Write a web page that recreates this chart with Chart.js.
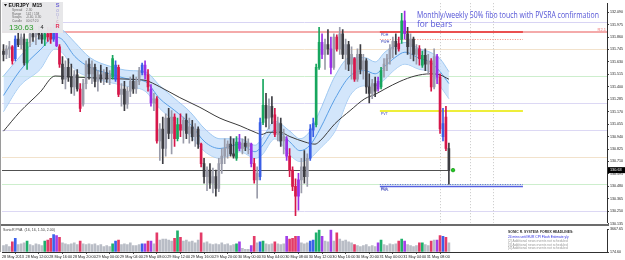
<!DOCTYPE html>
<html><head><meta charset="utf-8">
<script src="https://cdn.jsdelivr.net/npm/chart.js@4.4.0/dist/chart.umd.min.js"></script>
<style>
html,body{margin:0;padding:0;background:#fff;width:625px;height:260px;overflow:hidden}
canvas{position:absolute;left:0}
#c1{top:0;width:625px;height:226px}
#c2{top:226px;width:625px;height:34px}
</style></head><body>
<canvas id="c1" width="625" height="226"></canvas>
<canvas id="c2" width="625" height="34"></canvas>
<script>
// ---------- DATA ----------
const symbolTitle = "EURJPY  M15";
const opens = [131.73,131.70,131.75,131.77,131.66,131.84,131.79,131.84,131.62,131.81,
131.89,131.86,131.90,131.88,131.84,131.89,131.93,131.84,131.91,131.77,
131.61,131.47,131.58,131.49,131.40,131.51,131.38,131.24,131.43,131.61,
131.52,131.58,131.45,131.51,131.47,131.53,131.47,131.49,131.47,131.58,
131.33,131.38,131.24,131.36,131.45,131.38,131.45,131.53,131.60,131.51,
131.38,131.25,131.29,130.90,131.01,130.83,131.11,130.97,131.12,130.92,
131.05,131.00,131.09,130.97,131.03,130.94,131.01,130.87,130.69,130.57,
130.63,130.51,130.57,130.46,130.69,130.76,130.83,130.87,130.78,130.74,
130.89,130.83,130.88,130.85,130.87,130.69,130.54,130.57,131.07,131.23,
131.11,131.22,131.14,130.96,131.06,130.90,130.92,130.76,130.63,130.48,
130.39,130.54,130.66,130.57,130.74,131.00,131.05,131.58,131.81,131.70,
131.79,131.75,131.58,131.86,131.75,131.89,131.70,131.79,131.61,131.66,
131.47,131.70,131.56,131.64,131.40,131.34,131.43,131.45,131.40,131.55,
131.61,131.66,131.75,131.82,131.80,131.84,132.01,131.89,131.77,131.84,
131.70,131.75,131.60,131.69,131.61,131.64,131.40,131.68,131.49,130.94,
131.12,130.83];
const highs = [131.79,131.78,131.82,131.78,131.87,131.90,131.89,131.89,131.84,131.93,
131.95,131.93,131.96,131.93,131.91,131.95,131.95,131.98,131.95,131.79,
131.68,131.64,131.66,131.61,131.55,131.56,131.43,131.47,131.64,131.66,
131.64,131.61,131.55,131.60,131.56,131.58,131.55,131.69,131.64,131.60,
131.43,131.45,131.40,131.49,131.51,131.49,131.58,131.62,131.64,131.56,
131.42,131.34,131.31,131.06,131.12,131.15,131.20,131.18,131.15,131.11,
131.15,131.12,131.15,131.11,131.09,131.06,131.03,130.88,130.74,130.66,
130.69,130.65,130.63,130.74,130.83,130.92,130.90,130.94,130.92,130.94,
130.96,130.92,130.94,130.92,130.88,130.74,130.66,131.11,131.47,131.34,
131.29,131.31,131.20,131.12,131.11,131.01,130.94,130.83,130.66,130.55,
130.60,130.74,130.81,130.78,131.05,131.11,131.61,131.95,131.89,131.84,
131.93,131.86,131.89,131.88,131.95,131.93,131.84,131.82,131.77,131.67,
131.75,131.79,131.70,131.66,131.52,131.47,131.49,131.49,131.58,131.66,
131.70,131.79,131.86,131.89,131.86,132.08,132.10,131.95,131.89,131.86,
131.79,131.78,131.73,131.75,131.70,131.66,131.75,131.70,131.52,131.20,
131.22,130.88];
const lows = [131.64,131.66,131.67,131.61,131.64,131.77,131.75,131.60,131.56,131.77,
131.82,131.79,131.84,131.80,131.78,131.82,131.80,131.82,131.77,131.58,
131.43,131.38,131.45,131.34,131.32,131.36,131.17,131.22,131.38,131.47,
131.43,131.40,131.36,131.44,131.42,131.44,131.42,131.47,131.45,131.31,
131.22,131.18,131.20,131.31,131.34,131.34,131.42,131.51,131.47,131.36,
131.22,131.18,130.88,130.72,130.69,130.76,130.92,130.78,130.85,130.90,
130.94,130.88,130.92,130.88,130.90,130.85,130.83,130.66,130.51,130.44,
130.46,130.42,130.39,130.43,130.60,130.69,130.74,130.76,130.74,130.72,
130.81,130.78,130.81,130.78,130.66,130.51,130.37,130.54,131.05,131.03,
131.01,131.06,130.94,130.90,130.85,130.78,130.72,130.57,130.44,130.21,
130.26,130.42,130.51,130.48,130.72,130.94,131.03,131.56,131.66,131.56,
131.70,131.52,131.56,131.73,131.70,131.66,131.56,131.55,131.47,131.45,
131.45,131.52,131.47,131.34,131.25,131.29,131.31,131.36,131.38,131.49,
131.55,131.61,131.67,131.70,131.73,131.80,131.84,131.70,131.66,131.64,
131.61,131.60,131.58,131.55,131.52,131.36,131.38,131.43,130.97,130.90,
130.81,130.50];
const closes = [131.70,131.75,131.77,131.64,131.84,131.79,131.86,131.62,131.81,131.89,
131.86,131.90,131.88,131.84,131.89,131.86,131.84,131.93,131.78,131.61,
131.47,131.58,131.49,131.40,131.51,131.38,131.20,131.43,131.61,131.52,
131.58,131.45,131.51,131.47,131.53,131.47,131.51,131.66,131.60,131.33,
131.38,131.24,131.36,131.45,131.38,131.45,131.55,131.60,131.51,131.40,
131.25,131.29,130.90,131.01,130.83,131.11,130.97,131.12,130.92,131.05,
131.00,131.09,130.97,131.03,130.94,131.01,130.87,130.69,130.57,130.63,
130.51,130.57,130.46,130.69,130.76,130.83,130.87,130.78,130.76,130.89,
130.83,130.88,130.85,130.88,130.69,130.54,130.60,131.07,131.23,131.11,
131.22,131.12,130.96,131.06,130.90,130.94,130.76,130.63,130.48,130.39,
130.54,130.66,130.57,130.74,131.01,131.06,131.58,131.81,131.70,131.79,
131.75,131.58,131.86,131.75,131.89,131.70,131.79,131.61,131.70,131.47,
131.70,131.56,131.64,131.40,131.34,131.43,131.36,131.38,131.55,131.61,
131.66,131.75,131.82,131.77,131.75,132.01,131.89,131.77,131.84,131.70,
131.75,131.66,131.69,131.61,131.64,131.40,131.68,131.49,131.01,131.06,
130.83,130.63];
// PVSRA class per candle: n normal, R climax bear, G climax bull, B rising bull, P rising bear
const pvsra = ['n','n','n','R','B','n','n','n','G','n',
'n','n','n','n','G','R','R','B','P','R',
'n','n','n','n','n','n','R','n','n','n',
'n','n','n','n','n','n','n','G','B','R',
'n','n','n','n','n','n','n','B','P','R',
'P','n','R','n','n','n','n','n','R','G',
'R','n','n','n','n','n','n','R','n','n',
'n','n','n','n','n','n','n','n','n','G',
'P','n','n','n','P','R','n','B','G','n',
'n','n','R','n','n','n','P','R','R','R',
'P','n','n','n','B','B','G','G','P','n',
'n','P','n','R','n','n','n','n','n','R',
'n','n','n','n','n','n','n','P','G','n',
'n','n','n','n','R','G','P','n','n','n',
'n','R','G','n','n','R','n','P','R','B',
'R','n'];
const volumes = [1155,1295,1015,1715,2275,1295,1435,1575,1855,1295,
1155,1435,1295,1155,1855,1995,2275,2835,2695,2415,
1575,1435,1295,1435,1575,1295,1855,1435,1295,1435,
1295,1435,1155,1295,1015,1155,1015,1435,1855,1995,
1295,1435,1295,1575,1155,1155,1295,1435,1435,1855,
1855,1435,3115,1995,2135,2135,1995,1855,2275,3395,
2415,1855,1995,1715,1855,1575,1995,3115,1575,1715,
1435,1295,1435,1295,1575,1295,1435,1155,1295,1435,
1715,735,595,595,1155,2555,1575,1715,1855,1435,
1295,1435,1715,1435,1295,1435,2555,2135,2275,2555,
2555,1575,1435,1575,1855,1995,3115,3535,2555,1855,
1715,3535,1855,3115,2135,1855,1995,1715,1575,1295,
1155,1015,1155,1295,1015,1155,1015,1575,1995,1295,
1155,1435,1295,1435,1855,2135,1855,1295,1155,1015,
1155,1575,1575,1295,1155,1855,1995,1995,2695,2555,
2415,1575];
// Sonic R dragon band (EMA34 of highs / lows / close)
const bandSlots = [0,5.6,12.4,17.5,19.8,24.2,29.3,36.1,42.9,48,53,58.1,63.2,68.3,73.4,80.2,85.3,87.6,92,97.1,100.5,103.9,107.3,112.4,117.5,122.5,126,129.3,132.7,136.1,141.2,144.6,148,151];
const bandUpper = [131.50,131.68,131.87,131.95,131.93,131.81,131.67,131.59,131.55,131.54,131.41,131.29,131.17,131.01,130.92,130.92,130.86,130.92,131.08,130.99,130.92,130.99,131.18,131.50,131.67,131.67,131.63,131.72,131.78,131.81,131.75,131.72,131.66,131.54];
const bandLower = [131.17,131.41,131.56,131.75,131.72,131.56,131.49,131.44,131.40,131.36,131.20,131.08,130.95,130.80,130.74,130.80,130.74,130.77,130.92,130.77,130.71,130.74,130.83,130.99,131.32,131.41,131.41,131.47,131.56,131.61,131.56,131.54,131.41,131.29];
const bandMid = [131.32,131.55,131.74,131.86,131.84,131.68,131.58,131.52,131.47,131.45,131.29,131.18,131.06,130.89,130.83,130.87,130.80,130.85,131.00,130.89,130.81,130.86,131.01,131.29,131.50,131.55,131.52,131.59,131.67,131.72,131.66,131.63,131.54,131.43];
const emaSlots = [0,5.6,12.4,17.5,24.2,32.7,42.9,48,53,59.8,66.6,73.4,80.2,85.3,87.6,89.7,93.7,97.1,102.2,105.6,107.3,112.4,117.5,122.5,126,129.3,134.4,139.5,144.6,148,151];
const emaSlow = [130.99,131.17,131.35,131.50,131.49,131.48,131.47,131.46,131.40,131.30,131.21,131.11,131.04,130.98,130.96,130.98,130.98,130.94,130.89,130.87,130.90,131.06,131.18,131.29,131.33,131.38,131.45,131.50,131.52,131.51,131.47];
// horizontal levels
const roundLevels = [132.00,131.75,131.50,131.25,131.00,130.75,130.50,130.25];
const resistanceLevel = 131.904;
const keyLevelNames = ['PDH','PWH','PVT','PDL','PWL'];
const keyLevelValues = [131.904,131.845,131.174,130.485,130.503];
const keyLevelSpan = [127.6,176.1];
const eventSlots = [148,158.1,166];
const lastPrice = 130.63;
const lastPriceText = "130.63";
const lastSlot = 151;
// axis tick labels
const yTickLabels = ["132.090","131.975","131.860","131.745","131.630","131.515","131.400","131.285","131.170","131.055","130.940","130.825","130.710","130.595","130.480","130.365","130.250","130.135"];
const xTickSlots = [0,8,16,24,32,40,48,56,64,72,80,88,96,104,112,120,128,136,144];
const xTickLabels = ["28 May 2013","28 May 12:00","28 May 16:00","28 May 20:00","29 May 00:00","29 May 04:00","29 May 08:00","29 May 12:00","29 May 16:00","29 May 20:00","30 May 00:00","30 May 04:00","30 May 08:00","30 May 12:00","30 May 16:00","30 May 20:00","31 May 00:00","31 May 04:00","31 May 08:00"];
const volTickLabels = ["174.60","3667.65"];
const infoRows = [["Spread","2.30"],["Range","142 / 158"],["Swaps","-0.40, 0.30"],["Candle","00:07:20"]];
const infoPrice = "130.63";
const infoCount = "4";
const sonicLetters = ["S","o","n","i","c","R"];
const annotationLines = ["Monthly/weekly 50% fibo touch with PVSRA confirmation","for bears"];
const volumeTitle = "SonicR PVA  (16, 16, 1.50, 2.00)";
const newsLines = ["SONIC R. SYSTEM: FOREX HEADLINES:","24 mins until EUR CPI Flash Estimate y/y","[2] Additional news events not scheduled","[3] Additional news events not scheduled","[4] Additional news events not scheduled"];
const resistanceTag = "R2.1";

// ---------- STYLE ----------
const PV_COL = {R:'#d6174a', G:'#17a65e', B:'#3a5fe6', P:'#9a2ee6'};
const VOL_COL = {R:'#e33b68', G:'#1fb06c', B:'#3b62ea', P:'#a23ee8', n:'#b9bdc6'};
const UP_COL = '#9a9caa', DN_COL = '#3c3c42';
const roundLevelColors = ['#d8d4f4','#f2e2cc','#cdeecd','#dcd8f4','#dcd8f4','#f2e2cc','#cdeecd','#dcd8f4'];
const keyLevelStyles = [
  {color:'#ea5050', w:2, dash:[]},
  {color:'#f09080', w:1, dash:[1,1.5]},
  {color:'#eeee3a', w:2, dash:[]},
  {color:'#5562e0', w:1.5, dash:[]},
  {color:'#5562e0', w:1, dash:[1,1.5]}
];
const FONT = '"Liberation Sans", Arial, sans-serif';
const X_MIN = -0.5, X_MAX = 204.6;

const idx = opens.map((_, i) => i);
const candleColor = i => pvsra[i] !== 'n' ? PV_COL[pvsra[i]] : (closes[i] >= opens[i] ? UP_COL : DN_COL);
const candleColors = idx.map(candleColor);

function hline(ctx, x0, x1, y){ ctx.beginPath(); ctx.moveTo(x0, y); ctx.lineTo(x1, y); ctx.stroke(); }
function vline(ctx, x, y0, y1){ ctx.beginPath(); ctx.moveTo(x, y0); ctx.lineTo(x, y1); ctx.stroke(); }

const pricePlugin = {
  id: 'priceOverlay',
  beforeDatasetsDraw(chart) {
    const {ctx, chartArea: a, scales: {x, y}} = chart;
    const Y = v => Math.round(y.getPixelForValue(v)) + 0.5;
    const X = s => x.getPixelForValue(s);
    ctx.save();
    ctx.lineWidth = 1;
    roundLevels.forEach((v, i) => { ctx.strokeStyle = roundLevelColors[i]; hline(ctx, a.left, a.right, Y(v)); });
    ctx.strokeStyle = 'rgba(243,165,165,0.95)'; ctx.lineWidth = 2;
    hline(ctx, a.left, a.right, Math.round(y.getPixelForValue(resistanceLevel)));
    ctx.setLineDash([1, 2]); ctx.strokeStyle = '#c6c6c6'; ctx.lineWidth = 1;
    eventSlots.forEach(s => vline(ctx, Math.round(X(s)) + 0.5, a.top, a.bottom));
    ctx.setLineDash([]);
    const x0 = X(keyLevelSpan[0]), x1 = X(keyLevelSpan[1]);
    keyLevelValues.forEach((v, i) => {
      const st = keyLevelStyles[i];
      ctx.strokeStyle = st.color; ctx.lineWidth = st.w; ctx.setLineDash(st.dash);
      const py = st.w === 2 ? Math.round(y.getPixelForValue(v)) : Y(v);
      hline(ctx, x0, x1, py);
    });
    ctx.setLineDash([]);
    ctx.strokeStyle = '#505050'; ctx.lineWidth = 1;
    hline(ctx, a.left, X(lastSlot) + 1, Y(lastPrice));
    ctx.restore();
  },
  afterDatasetsDraw(chart) {
    const {ctx, chartArea: a, scales: {x, y}} = chart;
    const X = s => x.getPixelForValue(s);
    ctx.save();
    // last price dot
    ctx.fillStyle = '#22c822'; ctx.strokeStyle = '#0e8a0e'; ctx.lineWidth = 0.6;
    ctx.beginPath(); ctx.arc(X(lastSlot + 1.4), y.getPixelForValue(lastPrice), 1.8, 0, Math.PI * 2); ctx.fill(); ctx.stroke();
    // key level labels
    ctx.font = '3.6px ' + FONT; ctx.fillStyle = '#3a44b8'; ctx.textBaseline = 'top'; ctx.textAlign = 'left';
    keyLevelValues.forEach((v, i) => {
      const off = i === 4 ? 4.5 : 1.2;
      ctx.fillText(keyLevelNames[i], X(keyLevelSpan[0]) + 1, y.getPixelForValue(v) + off);
    });
    // resistance tag
    ctx.fillStyle = '#f07070'; ctx.font = '4px ' + FONT; ctx.textBaseline = 'bottom'; ctx.textAlign = 'right';
    ctx.fillText(resistanceTag, a.right - 1, y.getPixelForValue(resistanceLevel) - 0.5);
    // annotation
    ctx.fillStyle = '#5454d6'; ctx.font = '8.4px "Open Sans", ' + FONT; ctx.textAlign = 'left'; ctx.textBaseline = 'alphabetic';
    ctx.fillText(annotationLines[0], 417, 17.5, 182);
    ctx.fillText(annotationLines[1], 417, 27);
    // info box
    ctx.fillStyle = 'rgba(230,230,232,0.97)';
    ctx.fillRect(2, 2, 61, 31);
    ctx.fillStyle = '#111';
    ctx.beginPath(); ctx.moveTo(4, 4); ctx.lineTo(7, 4); ctx.lineTo(5.5, 6.5); ctx.closePath(); ctx.fill();
    ctx.font = 'bold 5.2px ' + FONT; ctx.textBaseline = 'middle';
    ctx.fillText(symbolTitle, 8.5, 5.5);
    ctx.font = '3.2px ' + FONT; ctx.fillStyle = '#6a6a6a';
    infoRows.forEach((r, i) => { ctx.fillText(r[0], 12, 10.3 + i * 3.5); ctx.fillText(r[1], 26, 10.3 + i * 3.5); });
    ctx.font = '8px ' + FONT; ctx.fillStyle = '#2a9a2a'; ctx.textBaseline = 'alphabetic';
    ctx.fillText(infoPrice, 9, 29.5);
    ctx.font = '5.5px ' + FONT; ctx.fillStyle = '#222';
    ctx.fillText(infoCount, 40.5, 28.5);
    const sCols = ['#6c62d4','#9a98d6','#a8a6d8','#b8b0d8','#d49ab8','#e2305a'];
    const sY = [5.5, 10.5, 14.5, 18, 21.5, 26.5];
    ctx.textAlign = 'center'; ctx.textBaseline = 'middle';
    sonicLetters.forEach((ch, i) => {
      ctx.font = (i === 0 || i === 5 ? 'bold 5.6px ' : '4.6px ') + FONT;
      ctx.fillStyle = sCols[i]; ctx.fillText(ch, 57.5, sY[i]);
    });
    // current price tag on axis
    const py = y.getPixelForValue(lastPrice);
    ctx.fillStyle = '#000'; ctx.fillRect(a.right + 1, py - 3, 17, 6);
    ctx.fillStyle = '#fff'; ctx.font = '3.8px ' + FONT; ctx.textAlign = 'left';
    ctx.fillText(lastPriceText, a.right + 3, py + 0.2);
    // separator + left frame
    ctx.fillStyle = '#6c6c6c'; ctx.fillRect(0, 224, a.right + 2, 2);
    ctx.fillStyle = '#9a9a9a'; ctx.fillRect(0, 0, 1, 226);
    ctx.restore();
  }
};

const volPlugin = {
  id: 'volOverlay',
  afterDatasetsDraw(chart) {
    const {ctx} = chart;
    ctx.save();
    ctx.font = '3.6px ' + FONT; ctx.fillStyle = '#404040'; ctx.textBaseline = 'middle'; ctx.textAlign = 'left';
    ctx.fillText(volumeTitle, 3, 3.5);
    const nc = ['#303030', '#2a2ae0', '#9a9a9a', '#9a9a9a', '#9a9a9a'];
    const ny = [6, 11, 15.5, 19, 22.5];
    newsLines.forEach((t, i) => {
      ctx.font = (i === 0 ? 'bold 3.4px ' : '3.3px ') + FONT;
      ctx.fillStyle = nc[i]; ctx.fillText(t, 508, ny[i]);
    });
    ctx.fillStyle = '#9a9a9a'; ctx.fillRect(0, 0, 1, 26);
    ctx.restore();
  }
};

const xScaleBase = { type: 'linear', min: X_MIN, max: X_MAX, offset: false };

new Chart(document.getElementById('c1'), {
  type: 'bar',
  data: { datasets: [
    { type: 'bar', data: idx.map(i => ({x: i, y: [opens[i], closes[i]]})), backgroundColor: candleColors,
      barThickness: 2, grouped: false, minBarLength: 1, order: 0 },
    { type: 'bar', data: idx.map(i => ({x: i, y: [lows[i], highs[i]]})), backgroundColor: candleColors,
      barThickness: 1, grouped: false, order: 1 },
    { type: 'line', data: emaSlots.map((s, i) => ({x: s, y: emaSlow[i]})), borderColor: '#3a3a3a', borderWidth: 1,
      pointRadius: 0, cubicInterpolationMode: 'monotone', order: 2 },
    { type: 'line', data: bandSlots.map((s, i) => ({x: s, y: bandMid[i]})), borderColor: '#5a9fe6', borderWidth: 1,
      pointRadius: 0, cubicInterpolationMode: 'monotone', order: 3 },
    { type: 'line', data: bandSlots.map((s, i) => ({x: s, y: bandUpper[i]})), borderColor: 'rgba(150,195,240,0.9)', borderWidth: 1,
      pointRadius: 0, cubicInterpolationMode: 'monotone', fill: '+1', backgroundColor: 'rgba(196,222,249,0.75)', order: 4 },
    { type: 'line', data: bandSlots.map((s, i) => ({x: s, y: bandLower[i]})), borderColor: 'rgba(150,195,240,0.9)', borderWidth: 1,
      pointRadius: 0, cubicInterpolationMode: 'monotone', order: 5 }
  ]},
  options: {
    responsive: false, animation: false, devicePixelRatio: 1,
    layout: { padding: { left: 2, top: 3, bottom: 2, right: 0 } },
    plugins: { legend: { display: false }, tooltip: { enabled: false } },
    scales: {
      x: Object.assign({}, xScaleBase, { display: false }),
      y: {
        position: 'right', min: 130.143, max: 132.173,
        afterFit(s) { s.width = 18; },
        afterBuildTicks(s) { s.ticks = yTickLabels.map(t => ({ value: parseFloat(t) })); },
        ticks: { callback: (v, i) => yTickLabels[i], font: { size: 3.6, family: FONT }, color: '#202020', padding: 1, autoSkip: false },
        grid: { display: true, drawOnChartArea: false, tickLength: 2, color: '#404040' },
        border: { display: true, color: '#303030', width: 1 }
      }
    }
  },
  plugins: [pricePlugin]
});

new Chart(document.getElementById('c2'), {
  type: 'bar',
  data: { datasets: [
    { data: idx.map(i => ({x: i, y: volumes[i]})), backgroundColor: idx.map(i => VOL_COL[pvsra[i]]),
      barThickness: 2, base: parseFloat(volTickLabels[0]) }
  ]},
  options: {
    responsive: false, animation: false, devicePixelRatio: 1,
    layout: { padding: { left: 2, top: 2, bottom: 0, right: 0 } },
    plugins: { legend: { display: false }, tooltip: { enabled: false } },
    scales: {
      x: Object.assign({}, xScaleBase, {
        afterFit(s) { s.height = 8; },
        afterBuildTicks(s) { s.ticks = xTickSlots.map(v => ({ value: v })); },
        ticks: { callback: (v, i) => xTickLabels[i], font: { size: 3.8, family: FONT }, color: '#202020',
          align: 'start', maxRotation: 0, autoSkip: false, padding: 0.5, labelOffset: -1.5 },
        grid: { display: true, drawOnChartArea: false, tickLength: 2, color: '#505050' },
        border: { display: true, color: '#303030', width: 1 }
      }),
      y: {
        position: 'right', min: parseFloat(volTickLabels[0]), max: parseFloat(volTickLabels[1]),
        afterFit(s) { s.width = 18; },
        afterBuildTicks(s) { s.ticks = volTickLabels.map(t => ({ value: parseFloat(t) })); },
        ticks: { callback: (v, i) => volTickLabels[i], font: { size: 3.6, family: FONT }, color: '#202020', padding: 1, autoSkip: false },
        grid: { display: true, drawOnChartArea: false, tickLength: 2, color: '#404040' },
        border: { display: true, color: '#303030', width: 1 }
      }
    }
  },
  plugins: [volPlugin]
});
</script>
</body></html>
